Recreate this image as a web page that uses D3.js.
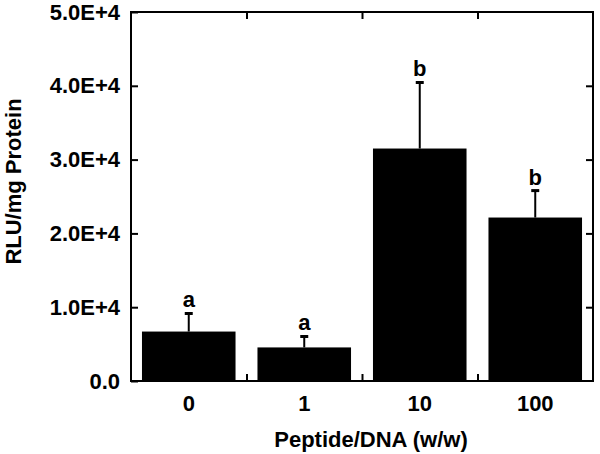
<!DOCTYPE html>
<html>
<head>
<meta charset="utf-8">
<script src="https://cdn.jsdelivr.net/npm/d3@7"></script>
<style>
  body { margin: 0; background: #fff; }
  text { font-family: "Liberation Sans", Arial, sans-serif; font-weight: bold; }
</style>
</head>
<body>
<div id="chart"></div>
<script>
const ratios = ["0", "1", "10", "100"];
const rlu = [6700, 4550, 31500, 22150];
const errs = [2450, 1480, 8950, 3650];
const letters = ["a", "a", "b", "b"];
const yTicks = [0, 10000, 20000, 30000, 40000, 50000];

const width = 600, height = 454;
const margin = {top: 12, right: 7, bottom: 73, left: 131};
const plotW = width - margin.left - margin.right;
const plotH = height - margin.top - margin.bottom;

const svg = d3.select("#chart").append("svg")
    .attr("width", width)
    .attr("height", height);

const g = svg.append("g")
    .attr("transform", `translate(${margin.left}, ${margin.top})`);

const x = d3.scaleBand().domain(ratios).range([0, plotW])
    .paddingInner(0.19).paddingOuter(0.095);
const y = d3.scaleLinear().domain([0, 50000]).range([plotH, 0]);
const xb = d3.scaleLinear().domain([0, ratios.length]).range([0, plotW]);

const fmt = d => d === 0 ? "0.0" : (d / 10000).toFixed(1) + "E+4";

// bars
g.selectAll("rect.bar")
    .data(ratios)
    .enter().append("rect")
    .attr("class", "bar")
    .attr("x", d => x(d))
    .attr("width", x.bandwidth())
    .attr("y", (d, i) => y(rlu[i]))
    .attr("height", (d, i) => plotH - y(rlu[i]))
    .attr("fill", "#000");

// error bars (upper only)
const eb = g.selectAll("g.err").data(ratios).enter().append("g").attr("class", "err");
eb.append("line")
    .attr("x1", d => x(d) + x.bandwidth() / 2)
    .attr("x2", d => x(d) + x.bandwidth() / 2)
    .attr("y1", (d, i) => y(rlu[i]))
    .attr("y2", (d, i) => y(rlu[i] + errs[i]))
    .attr("stroke", "#000").attr("stroke-width", 2);
eb.append("line")
    .attr("x1", d => x(d) + x.bandwidth() / 2 - 4)
    .attr("x2", d => x(d) + x.bandwidth() / 2 + 4)
    .attr("y1", (d, i) => y(rlu[i] + errs[i]))
    .attr("y2", (d, i) => y(rlu[i] + errs[i]))
    .attr("stroke", "#000").attr("stroke-width", 3);

// significance letters
g.selectAll("text.sig")
    .data(ratios)
    .enter().append("text")
    .attr("class", "sig")
    .attr("x", d => x(d) + x.bandwidth() / 2)
    .attr("y", (d, i) => y(rlu[i] + errs[i]) - 6)
    .attr("text-anchor", "middle")
    .style("font-size", "22px")
    .text((d, i) => letters[i]);

// axes
const yAxis = g.append("g")
    .call(d3.axisLeft(y).tickValues(yTicks).tickFormat(fmt).tickSizeInner(-7).tickSizeOuter(0).tickPadding(11));
yAxis.select(".domain").remove();
yAxis.selectAll("text").style("font-size", "22px").attr("fill", "#000");
yAxis.selectAll("line").attr("stroke-width", 2);

const yRight = g.append("g")
    .attr("transform", `translate(${plotW}, 0)`)
    .call(d3.axisRight(y).tickValues(yTicks.slice(1, -1)).tickFormat("").tickSizeInner(-7).tickSizeOuter(0));
yRight.select(".domain").remove();
yRight.selectAll("line").attr("stroke-width", 2);

const xAxis = g.append("g")
    .attr("transform", `translate(0, ${plotH})`)
    .call(d3.axisBottom(x).tickSize(0).tickPadding(14));
xAxis.select(".domain").remove();
xAxis.selectAll("text").style("font-size", "22px").attr("fill", "#000");

const xTicks = g.append("g")
    .attr("transform", `translate(0, ${plotH})`)
    .call(d3.axisBottom(xb).tickValues([1, 2, 3]).tickFormat("").tickSizeInner(-7).tickSizeOuter(0));
xTicks.select(".domain").remove();
xTicks.selectAll("line").attr("stroke-width", 2);

const xTop = g.append("g")
    .call(d3.axisTop(xb).tickValues([1, 2, 3]).tickFormat("").tickSizeInner(-7).tickSizeOuter(0));
xTop.select(".domain").remove();
xTop.selectAll("line").attr("stroke-width", 2);

// frame
g.append("rect")
    .attr("width", plotW)
    .attr("height", plotH)
    .attr("fill", "none")
    .attr("stroke", "#000")
    .attr("stroke-width", 2);

// axis titles
svg.append("text")
    .attr("x", 371)
    .attr("y", 447)
    .attr("text-anchor", "middle")
    .style("font-size", "22px")
    .text("Peptide/DNA (w/w)");

svg.append("text")
    .attr("transform", `translate(21, ${margin.top + plotH / 2 - 15}) rotate(-90)`)
    .attr("text-anchor", "middle")
    .style("font-size", "22px")
    .text("RLU/mg Protein");
</script>
</body>
</html>
